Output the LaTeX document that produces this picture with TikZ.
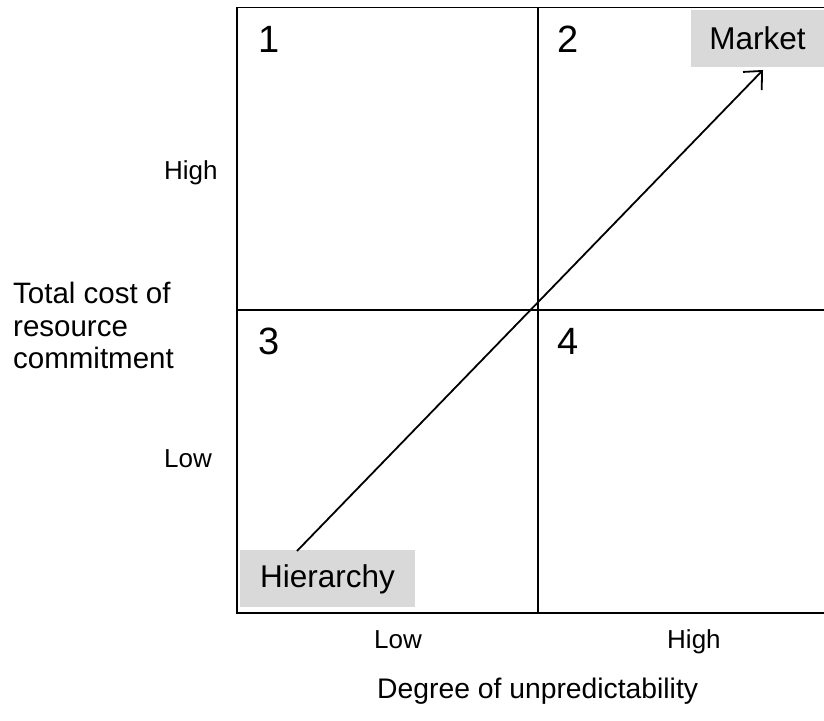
\documentclass[tikz,border=0pt]{standalone}
\usepackage{fontspec}
\setmainfont{Liberation Sans}
\usetikzlibrary{arrows.meta}
\begin{document}
\begin{tikzpicture}[x=1pt,y=1pt,
  outer/.style={line width=1.8pt},
  inner/.style={line width=1.4pt},
  lbl/.style={inner sep=0pt,anchor=base west},
  num/.style={lbl,font=\fontsize{38}{42}\selectfont},
  axl/.style={lbl,font=\fontsize{26}{30}\selectfont},
  tag/.style={fill=gray!30,inner sep=0pt,minimum height=57pt,font=\fontsize{31.5}{36}\selectfont}]
\useasboundingbox (0,0) rectangle (824,720);
% grid
\coordinate (tl) at (237,712.5);
\coordinate (bl) at (237,107);
\coordinate (tr) at (826,712.5);
\coordinate (br) at (826,107);
\coordinate (mt) at (538,712.5);
\coordinate (mb) at (538,107);
\coordinate (ml) at (237,410);
\coordinate (mr) at (826,410);
% boxes
\node[tag,minimum width=133pt] (market) at (757.5,681.5) {Market};
\node[tag,minimum width=175pt] (hier) at (327.5,141) {Hierarchy};
\draw[outer] (tr) -- (tl) -- (bl) -- (br);
\draw[inner] (mt) -- (mb);
\draw[inner] (ml) -- (mr);
% numbers
\node[num] (n1) at (258,667) {1};
\node[num] (n2) at (557,667) {2};
\node[num] (n3) at (258,365) {3};
\node[num] (n4) at (557,365) {4};
% axis labels
\node[axl] (yh) at (164,540) {High};
\node[axl] (yl) at (164,252) {Low};
\node[axl] (xl) at (374,72) {Low};
\node[axl] (xh) at (667,72) {High};
\node[inner sep=0pt,anchor=north west,align=left,font=\fontsize{29.5}{32.5}\selectfont] (ytitle) at (13,438) {Total cost of\\resource\\commitment};
\node[lbl,font=\fontsize{28.3}{32}\selectfont] (xtitle) at (377,22) {Degree of unpredictability};
% arrow
\coordinate (as) at (297,169);
\coordinate (ae) at (763,650);
\draw[line width=1.8pt,-{Straight Barb[length=14pt,width=26pt,line width=1.8pt]}] (as) -- (ae);
\end{tikzpicture}
\end{document}
